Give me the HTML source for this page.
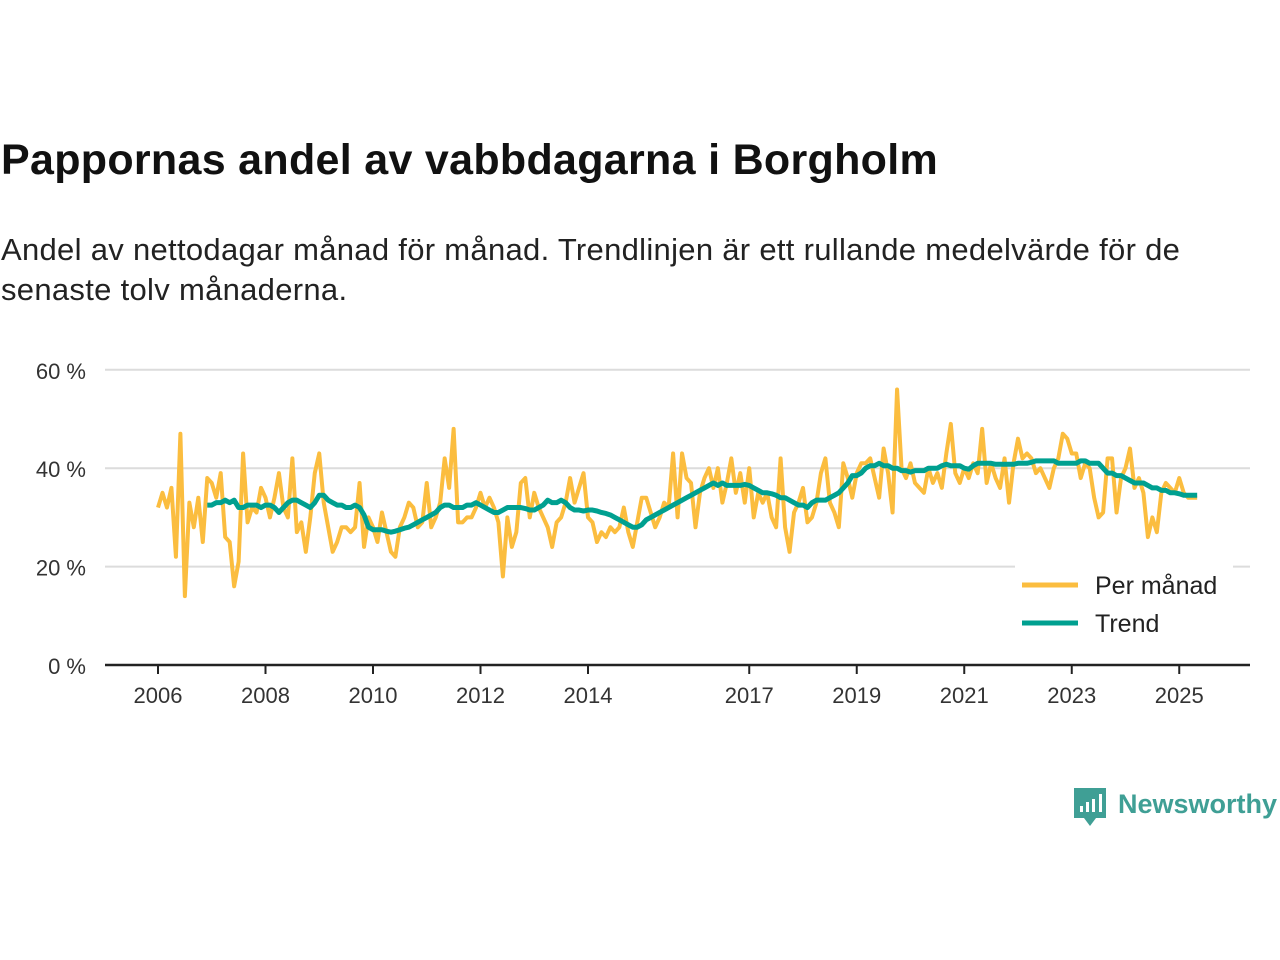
<!DOCTYPE html>
<html><head><meta charset="utf-8"><style>
body{margin:0;background:#fff;width:1280px;height:960px;overflow:hidden;font-family:"Liberation Sans",sans-serif}
#title{position:absolute;left:1px;top:136px;font-size:43px;font-weight:bold;color:#111;margin:0;letter-spacing:0.3px}
#sub{position:absolute;left:1px;top:230px;font-size:31px;color:#222;line-height:40px;width:1235px;letter-spacing:0.3px}
svg{position:absolute;left:0;top:0}
</style></head><body>
<h1 id="title">Pappornas andel av vabbdagarna i Borgholm</h1>
<div id="sub">Andel av nettodagar månad för månad. Trendlinjen är ett rullande medelvärde för de senaste tolv månaderna.</div>
<svg id="chart" width="1280" height="960"></svg>
<script>
const monthly = [
32,35,32,36,22,47,14,33,28,34,25,38,
37,34,39,26,25,16,21,43,29,32,31,36,
34,30,34,39,32,30,42,27,29,23,30,39,
43,33,28,23,25,28,28,27,28,37,24,30,
28,25,31,27,23,22,28,30,33,32,28,29,
37,28,30,33,42,36,48,29,29,30,30,32,
35,32,34,32,29,18,30,24,27,37,38,30,
35,32,30,28,24,29,30,33,38,33,36,39,
30,29,25,27,26,28,27,28,32,27,24,29,
34,34,31,28,30,33,32,43,30,43,38,37,
28,35,38,40,36,40,33,37,42,35,39,33,
40,30,35,33,35,30,28,42,28,23,31,33,
36,29,30,33,39,42,33,31,28,41,38,34,
39,41,41,42,38,34,44,39,31,56,40,38,
41,37,36,35,40,37,39,36,43,49,39,37,
40,38,41,39,48,37,41,38,36,42,33,41,
46,42,43,42,39,40,38,36,40,42,47,46,
43,43,38,41,40,34,30,31,42,42,31,38,
40,44,36,38,35,26,30,27,35,37,36,35,
38,35,34,34,34];
const trendStart = 11;
const trend = [
32.5,
32.5,33,33,33.5,33,33.5,32,32,32.5,32.5,32.5,32,
32.5,32.5,32,31,32,33,33.5,33.5,33,32.5,32,33,
34.5,34.5,33.5,33,32.5,32.5,32,32,32.5,32,30.5,28,
27.5,27.5,27.5,27.2,27,27.2,27.5,27.8,28,28.5,29,29.5,
30,30.5,31,32,32.5,32.5,32,32,32,32.5,32.5,33,
32.5,32,31.5,31,31,31.5,32,32,32,32,31.8,31.5,
31.5,32,32.5,33.5,33,33,33.5,33,32,31.5,31.5,31.3,
31.5,31.5,31.3,31,30.8,30.5,30,29.5,29,28.5,28,28,
28.5,29.5,30,30.5,31,31.5,32,32.5,33,33.5,34,34.5,
35,35.5,36,36.5,37,36.5,37,36.5,36.5,36.5,36.5,36.7,
36.5,36,35.5,35,35,34.8,34.5,34,34,33.5,33,32.5,
32.5,32,33,33.5,33.5,33.5,34,34.5,35,36,37,38.5,
38.5,39,40,40.5,40.5,41,40.5,40.5,40,40,39.5,39.5,
39.2,39.5,39.5,39.5,40,40,40,40.5,40.8,40.5,40.5,40.5,
40,39.8,40.5,41,41,41,41,40.8,40.8,40.8,40.8,40.8,
41,41,41,41.2,41.5,41.5,41.5,41.5,41.5,41,41,41,
41,41,41.5,41.5,41,41,41,40,39,39,38.5,38.5,
38,37.5,37,37,37,36.5,36,36,35.5,35.5,35,35,
34.8,34.5,34.5,34.5,34.5];
const yTicks = [0,20,40,60];
const xTickYears = [2006,2008,2010,2012,2014,2017,2019,2021,2023,2025];

const svg = document.getElementById('chart');
const NS='http://www.w3.org/2000/svg';
const X0=158, PXY=53.75, Y0=665, PXP=4.92;
const xm = m => X0 + m*PXY/12;
const yv = v => Y0 - v*PXP;
function mk(tag, attrs, parent){const e=document.createElementNS(NS,tag);for(const k in attrs)e.setAttribute(k,attrs[k]);(parent||svg).appendChild(e);return e;}

yTicks.forEach(t=>{
  if(t>0){
    const g=mk('line',{x1:105,x2:1250,y1:yv(t),y2:yv(t),stroke:'#dcdcdc','stroke-width':2});
    
    
  }
  const l=mk('text',{x:86,y:yv(t)+9,'text-anchor':'end','font-size':22,fill:'#333','font-family':'Liberation Sans, sans-serif'});
  l.textContent=t+' %';
  
  
});
xTickYears.forEach(yr=>{
  const x=X0+(yr-2006)*PXY;
  const tk=mk('line',{x1:x,x2:x,y1:Y0,y2:Y0+9,stroke:'#222','stroke-width':2});
  
  
  const l=mk('text',{x:x,y:Y0+38,'text-anchor':'middle','font-size':22,fill:'#333','font-family':'Liberation Sans, sans-serif'});
  l.textContent=yr;
  
  
});
const ax=mk('line',{x1:105,x2:1250,y1:Y0,y2:Y0,stroke:'#222','stroke-width':2.5});



const p1=mk('polyline',{points:monthly.map((v,i)=>xm(i)+','+yv(v)).join(' '),fill:'none',stroke:'#fbbd3f','stroke-width':4,'stroke-linejoin':'round'});


const p2=mk('polyline',{points:trend.map((v,i)=>xm(i+trendStart)+','+yv(v)).join(' '),fill:'none',stroke:'#00a090','stroke-width':5,'stroke-linejoin':'round'});



const lg=mk('g',{});


mk('rect',{x:1015,y:565,width:218,height:78,fill:'#fff'},lg);
const e1=mk('line',{x1:1022,x2:1078,y1:585,y2:585,stroke:'#fbbd3f','stroke-width':5},lg);


const t1=mk('text',{x:1095,y:594,'font-size':25,fill:'#222','font-family':'Liberation Sans, sans-serif'},lg);t1.textContent='Per månad';


const e2=mk('line',{x1:1022,x2:1078,y1:623,y2:623,stroke:'#00a090','stroke-width':5},lg);


const t2=mk('text',{x:1095,y:632,'font-size':25,fill:'#222','font-family':'Liberation Sans, sans-serif'},lg);t2.textContent='Trend';



const logo=mk('g',{});


mk('path',{d:'M1074 788 h32 v30 h-10 l-6 8 l-6 -8 h-10 z',fill:'#3f9f95'},logo);
[[1080,806,6],[1086,802,10],[1092,799,13],[1099,794,18]].forEach(b=>mk('rect',{x:b[0],y:b[1],width:3,height:b[2],fill:'#fff'},logo));
const lt=mk('text',{x:1118,y:813,'font-size':27,'font-weight':'bold',fill:'#3f9f95','font-family':'Liberation Sans, sans-serif'},logo);lt.textContent='Newsworthy';
</script>
</body></html>
